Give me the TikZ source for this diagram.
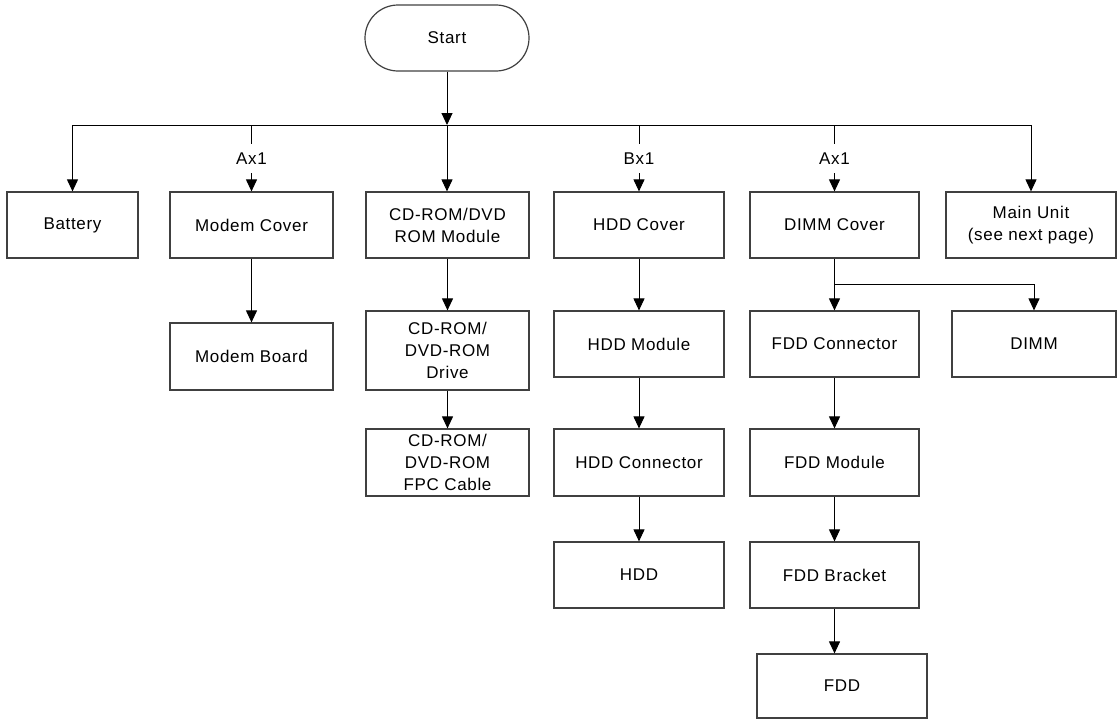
\documentclass[tikz,border=0pt]{standalone}
\usepackage{fontspec}
\setmainfont[LetterSpace=4]{Liberation Sans}
\usetikzlibrary{arrows.meta}
\begin{document}
\begin{tikzpicture}[x=1pt,y=-1pt,
  txt/.style={font=\fontsize{17}{22}\selectfont, align=center},
  box/.style={txt, draw=black!75, line width=1.2pt, inner sep=0pt, minimum width=#1},
  box/.default=170,
  conn/.style={line width=1pt, draw=black},
  arr/.style={conn, -{Triangle[length=12pt,width=11pt]}},
  lbl/.style={txt, fill=white, inner sep=0pt, minimum height=29pt}
]
\useasboundingbox (0,0) rectangle (1118,720);
% nodes
\node[box=164, minimum height=66, rounded corners=33pt] (start) at (447,38) {Start};
\node[box=131, minimum height=66] (battery) at (72.5,225) {Battery};
\node[box=163, minimum height=66] (mcover) at (251.5,225) {Modem Cover};
\node[box=163, minimum height=66] (cdmod) at (447.5,225) {CD-ROM/DVD\\ROM Module};
\node[box=170, minimum height=66] (hddcov) at (639,225) {HDD Cover};
\node[box=169, minimum height=66] (dimmcov) at (834.5,225) {DIMM Cover};
\node[box=170, minimum height=66] (mainunit) at (1031,225) {Main Unit\\(see next page)};
\node[box=163, minimum height=67] (mboard) at (251.5,356.5) {Modem Board};
\node[box=163, minimum height=79] (cddrive) at (447.5,350.5) {CD-ROM/\\DVD-ROM\\Drive};
\node[box=163, minimum height=67] (fpc) at (447.5,462.5) {CD-ROM/\\DVD-ROM\\FPC Cable};
\node[box=170, minimum height=66] (hddmod) at (639,344) {HDD Module};
\node[box=170, minimum height=67] (hddcon) at (639,462.5) {HDD Connector};
\node[box=170, minimum height=66] (hdd) at (639,575) {HDD};
\node[box=169, minimum height=66] (fddcon) at (834.5,344) {FDD Connector};
\node[box=169, minimum height=67] (fddmod) at (834.5,462.5) {FDD Module};
\node[box=169, minimum height=66] (fddbr) at (834.5,575) {FDD Bracket};
\node[box=170, minimum height=64] (fdd) at (842,686) {FDD};
\node[box=164, minimum height=66] (dimm) at (1034,344) {DIMM};
% hub
\coordinate (hub) at (447,125);
\coordinate (br) at (834.5,284);
\draw[arr] (start.south) -- (start.south |- hub);
\draw[conn] (battery.north |- hub) -- (mainunit.north |- hub);
\draw[arr] (start.south |- hub) -- (start.south |- cdmod.north);
\draw[arr] (battery.north |- hub) -- (battery.north);
\draw[arr] (mcover.north |- hub) -- node[lbl]{Ax1} (mcover.north);
\draw[arr] (hddcov.north |- hub) -- node[lbl]{Bx1} (hddcov.north);
\draw[arr] (dimmcov.north |- hub) -- node[lbl]{Ax1} (dimmcov.north);
\draw[arr] (mainunit.north |- hub) -- (mainunit.north);
% chains
\draw[arr] (mcover) -- (mboard);
\draw[arr] (cdmod) -- (cddrive);
\draw[arr] (cddrive) -- (fpc);
\draw[arr] (hddcov) -- (hddmod);
\draw[arr] (hddmod) -- (hddcon);
\draw[arr] (hddcon) -- (hdd);
\draw[arr] (dimmcov) -- (fddcon);
\draw[arr] (br) -| (dimm.north);
\draw[arr] (fddcon) -- (fddmod);
\draw[arr] (fddmod) -- (fddbr);
\draw[arr] (fddbr.south) -- (fddbr.south |- fdd.north);
\end{tikzpicture}
\end{document}
